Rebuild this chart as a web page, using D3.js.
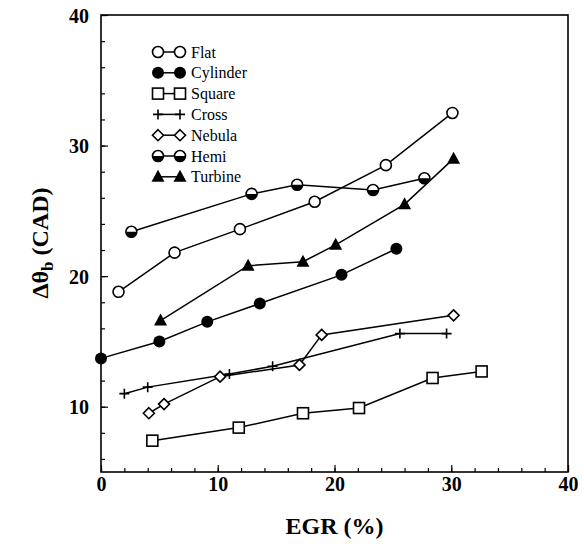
<!DOCTYPE html>
<html><head><meta charset="utf-8">
<script src="https://cdn.jsdelivr.net/npm/d3@7"></script>
<style>body{margin:0;background:#fff}svg{display:block}</style>
</head><body>
<svg id="c" width="584" height="544"></svg>
<script>
// Data: EGR (%) vs Δθb (CAD)
const flatX = [1.5, 6.3, 11.9, 18.3, 24.4, 30.1];
const flatY = [18.8, 21.8, 23.6, 25.7, 28.5, 32.5];
const cylinderX = [0, 5.0, 9.1, 13.6, 20.6, 25.3];
const cylinderY = [13.7, 15.0, 16.5, 17.9, 20.1, 22.1];
const squareX = [4.4, 11.8, 17.3, 22.1, 28.4, 32.6];
const squareY = [7.4, 8.4, 9.5, 9.9, 12.2, 12.7];
const crossX = [2.0, 4.0, 11.0, 14.7, 25.6, 29.6];
const crossY = [11.0, 11.5, 12.5, 13.1, 15.6, 15.6];
const nebulaX = [4.1, 5.4, 10.2, 17.0, 18.9, 30.2];
const nebulaY = [9.5, 10.2, 12.3, 13.2, 15.5, 17.0];
const hemiX = [2.6, 12.9, 16.8, 23.3, 27.7];
const hemiY = [23.4, 26.3, 27.0, 26.6, 27.5];
const turbineX = [5.1, 12.6, 17.3, 20.1, 26.0, 30.2];
const turbineY = [16.6, 20.8, 21.1, 22.4, 25.5, 29.0];

const seriesNames = ["Flat", "Cylinder", "Square", "Cross", "Nebula", "Hemi", "Turbine"];
const seriesMarkers = ["circleOpen", "circleFilled", "square", "cross", "diamond", "hemi", "triangle"];
const xTicks = [0, 10, 20, 30, 40];
const yTicks = [10, 20, 30, 40];

const seriesX = [flatX, cylinderX, squareX, crossX, nebulaX, hemiX, turbineX];
const seriesY = [flatY, cylinderY, squareY, crossY, nebulaY, hemiY, turbineY];

const svg = d3.select("#c");
const L = 101, R = 568, T = 15, B = 472;
const x = d3.scaleLinear().domain([0, 40]).range([L, R]);
const y = d3.scaleLinear().domain([5, 40]).range([B, T]);
const font = "'Liberation Serif', 'DejaVu Serif', serif";

// frame
svg.append("rect").attr("x", L).attr("y", T).attr("width", R - L).attr("height", B - T)
  .attr("fill", "none").attr("stroke", "#000").attr("stroke-width", 1.6);

// axes (ticks inward)
const xAxisMinor = d3.axisTop(x).tickValues(d3.range(0, 41, 2)).tickSize(4).tickFormat("");
const xAxisMajor = d3.axisTop(x).tickValues(xTicks).tickSize(7).tickFormat("");
const gx1 = svg.append("g").attr("transform", `translate(0,${B})`).call(xAxisMinor);
const gx2 = svg.append("g").attr("transform", `translate(0,${B})`).call(xAxisMajor);
const yAxisMinor = d3.axisRight(y).tickValues(d3.range(6, 41, 2)).tickSize(4).tickFormat("");
const yAxisMajor = d3.axisRight(y).tickValues(yTicks).tickSize(7).tickFormat("");
const gy1 = svg.append("g").attr("transform", `translate(${L},0)`).call(yAxisMinor);
const gy2 = svg.append("g").attr("transform", `translate(${L},0)`).call(yAxisMajor);
[gx1, gx2, gy1, gy2].forEach(g => { g.select(".domain").remove(); g.selectAll("line").attr("stroke", "#000").attr("stroke-width", 1.2); });

// tick labels
const xl = d3.axisBottom(x).tickValues(xTicks).tickSize(0).tickPadding(0);
const gxl = svg.append("g").attr("transform", `translate(0,${B + 19})`).call(xl);
gxl.select(".domain").remove();
gxl.selectAll("text").attr("font-family", font).attr("font-size", 20).attr("font-weight", "bold").attr("fill", "#000").attr("dy", "0");
const yl = d3.axisLeft(y).tickValues(yTicks).tickSize(0).tickPadding(0);
const gyl = svg.append("g").attr("transform", `translate(${L - 12},0)`).call(yl);
gyl.select(".domain").remove();
gyl.selectAll("text").attr("font-family", font).attr("font-size", 20).attr("font-weight", "bold").attr("fill", "#000").attr("dy", "0.35em");

// axis titles
svg.append("text").attr("x", (L + R) / 2).attr("y", 534).attr("text-anchor", "middle")
  .attr("font-family", font).attr("font-size", 24).attr("font-weight", "bold").text("EGR (%)");
const yt = svg.append("text").attr("transform", "translate(48,243) rotate(-90)").attr("text-anchor", "middle")
  .attr("font-family", font).attr("font-size", 24).attr("font-weight", "bold");
yt.append("tspan").text("Δθ");
yt.append("tspan").attr("font-size", 17).attr("dy", 5).text("b");
yt.append("tspan").attr("dy", -5).text(" (CAD)");

// marker drawing
function marker(g, type, cx, cy) {
  const s = g.append("g").attr("transform", `translate(${cx},${cy})`);
  const sw = 1.6;
  if (type === "circleOpen") s.append("circle").attr("r", 5.5).attr("fill", "#fff").attr("stroke", "#000").attr("stroke-width", sw);
  else if (type === "circleFilled") s.append("circle").attr("r", 6).attr("fill", "#000");
  else if (type === "square") s.append("rect").attr("x", -5.5).attr("y", -5.5).attr("width", 11).attr("height", 11).attr("fill", "#fff").attr("stroke", "#000").attr("stroke-width", sw);
  else if (type === "cross") {
    s.append("path").attr("d", "M-5,0H5M0,-5V5").attr("stroke", "#000").attr("stroke-width", 1.6);
  } else if (type === "diamond") s.append("path").attr("d", "M0,-5.5L5.5,0L0,5.5L-5.5,0Z").attr("fill", "#fff").attr("stroke", "#000").attr("stroke-width", sw);
  else if (type === "hemi") {
    s.append("circle").attr("r", 5.5).attr("fill", "#fff").attr("stroke", "#000").attr("stroke-width", sw);
    s.append("path").attr("d", d3.arc()({innerRadius: 0, outerRadius: 5.5, startAngle: Math.PI / 2, endAngle: 3 * Math.PI / 2})).attr("fill", "#000");
  } else if (type === "triangle") s.append("path").attr("d", "M0,-7L6.5,5L-6.5,5Z").attr("fill", "#000");
}

const line = d3.line().x(d => x(d[0])).y(d => y(d[1]));
const plot = svg.append("g");
seriesNames.forEach((name, i) => {
  const pts = seriesX[i].map((v, j) => [v, seriesY[i][j]]);
  plot.append("path").attr("d", line(pts)).attr("fill", "none").attr("stroke", "#000").attr("stroke-width", 1.5);
});
seriesNames.forEach((name, i) => {
  seriesX[i].forEach((v, j) => marker(plot, seriesMarkers[i], x(v), y(seriesY[i][j])));
});

// legend
const lg = svg.append("g");
seriesNames.forEach((name, i) => {
  const ly = 52 + i * 20.8;
  lg.append("line").attr("x1", 158).attr("x2", 180).attr("y1", ly).attr("y2", ly).attr("stroke", "#000").attr("stroke-width", 1.5);
  marker(lg, seriesMarkers[i], 158, ly);
  marker(lg, seriesMarkers[i], 180, ly);
  lg.append("text").attr("x", 191).attr("y", ly).attr("dy", "0.35em").attr("font-family", font)
    .attr("font-size", 16).text(name);
});
</script>
</body></html>
